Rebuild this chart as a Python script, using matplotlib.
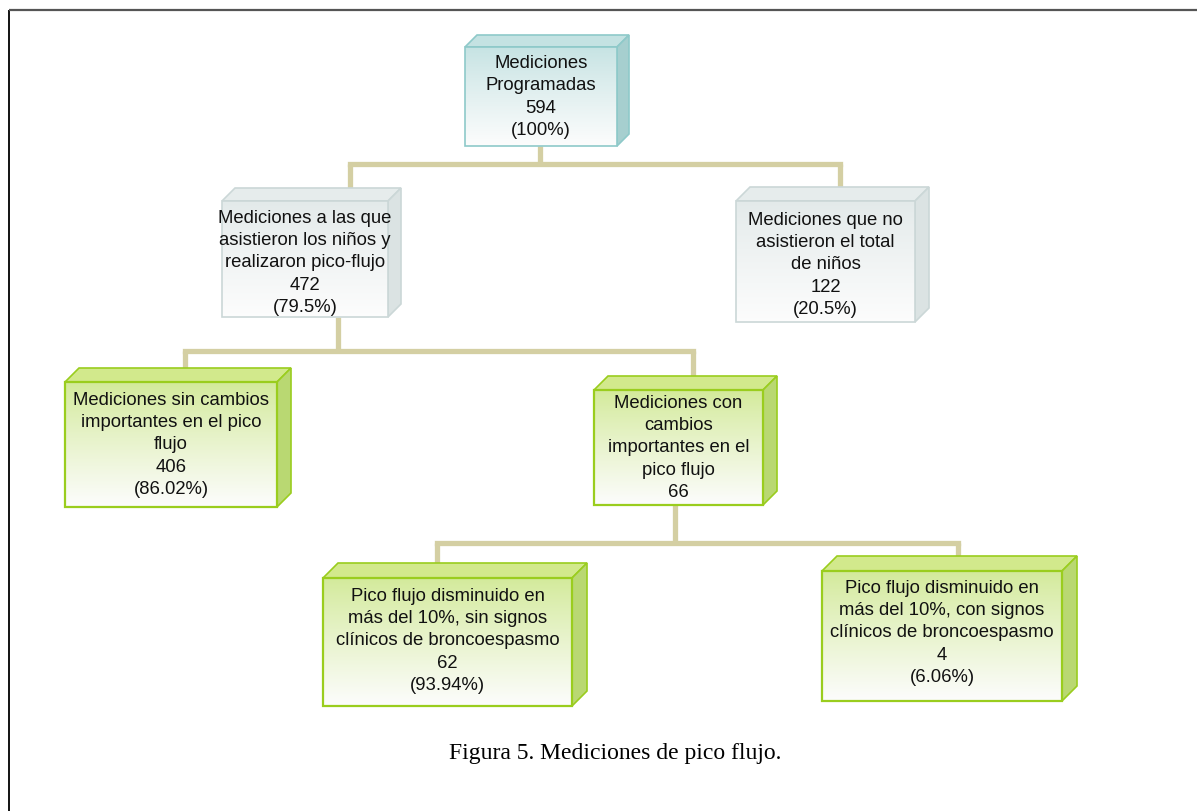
import matplotlib
matplotlib.use("Agg")
import matplotlib.pyplot as plt
from matplotlib.patches import Polygon, Rectangle
import numpy as np

# node texts and values
labels = [
    "Mediciones\nProgramadas",
    "Mediciones a las que\nasistieron los niños y\nrealizaron pico-flujo",
    "Mediciones que no\nasistieron el total\nde niños",
    "Mediciones sin cambios\nimportantes en el pico\nflujo",
    "Mediciones con\ncambios\nimportantes en el\npico flujo",
    "Pico flujo disminuido en\nmás del 10%, sin signos\nclínicos de broncoespasmo",
    "Pico flujo disminuido en\nmás del 10%, con signos\nclínicos de broncoespasmo",
]
counts = [594, 472, 122, 406, 66, 62, 4]
percents = ["100%", "79.5%", "20.5%", "86.02%", None, "93.94%", "6.06%"]
parents = [None, 0, 0, 1, 1, 4, 4]
caption = "Figura 5. Mediciones de pico flujo."

# layout in pixels: front face (x0, y0, x1, y1), depth, style, text centre y
boxes = [
    ((465, 48, 617, 147), 12, "teal", 97),
    ((222, 202, 388, 318), 13, "grey", 263),
    ((736, 202, 915, 323), 14, "grey", 265),
    ((65, 383, 277, 508), 14, "green", 445),
    ((594, 391, 763, 506), 14, "green", 448),
    ((323, 579, 572, 707), 15, "green", 641),
    ((822, 572, 1062, 702), 15, "green", 633),
]
# connectors: (bus y, stem x) per parent, drop x per child
bus = {0: (165, 540), 1: (352, 338), 4: (544, 675)}
drops = {1: 350, 2: 840, 3: 185, 4: 693, 5: 437, 6: 958}

styles = {
    "teal": dict(front="#c6e3e3", edge="#8ec9c9", top="#c4e2e2", side="#a6cfcf"),
    "grey": dict(front="#e3eaea", edge="#cbd7d7", top="#e6ecec", side="#dbe3e3"),
    "green": dict(front="#d3ea9a", edge="#9acd1e", top="#d2e98c", side="#b9d872"),
}
line_col = "#d4cfa3"

W, H = 1197, 812
fig = plt.figure(figsize=(W / 100, H / 100), dpi=100)
ax = fig.add_axes([0, 0, 1, 1])
ax.set_xlim(0, W)
ax.set_ylim(H, 0)
ax.axis("off")

# frame
ax.plot([9, 9], [11, H], color="black", lw=1.3, solid_capstyle="butt")
ax.plot([9, W], [11, 11], color="#555555", lw=1.6, solid_capstyle="butt")

# connectors
for p, (by, sx) in bus.items():
    kids = [i for i in range(len(parents)) if parents[i] == p]
    py = boxes[p][0][3]
    ax.plot([sx, sx], [py, by], color=line_col, lw=3.8, solid_capstyle="butt", zorder=1)
    xs = [drops[k] for k in kids] + [sx]
    ax.plot([min(xs), max(xs)], [by, by], color=line_col, lw=3.8,
            solid_capstyle="projecting", zorder=1)
    for k in kids:
        (x0, y0, x1, y1), d, _, _ = boxes[k]
        ax.plot([drops[k], drops[k]], [by, y0 - d + 2], color=line_col, lw=3.8,
                solid_capstyle="butt", zorder=1)

def fade(c, n=100, power=1.0):
    c = np.array(matplotlib.colors.to_rgb(c))
    t = np.linspace(0, 1, n)[:, None] ** power
    col = c * (1 - t) + np.ones(3) * t * 0.99
    return col[:, None, :]

for i, ((x0, y0, x1, y1), d, st, ty) in enumerate(boxes):
    s = styles[st]
    top = Polygon([(x0, y0), (x0 + d, y0 - d), (x1 + d, y0 - d), (x1, y0)],
                  closed=True, fc=s["top"], ec=s["edge"], lw=1.2, zorder=2)
    side = Polygon([(x1, y0), (x1 + d, y0 - d), (x1 + d, y1 - d), (x1, y1)],
                   closed=True, fc=s["side"], ec=s["edge"], lw=1.2, zorder=2)
    ax.add_patch(top)
    ax.add_patch(side)
    ax.imshow(fade(s["front"], power=0.9), extent=(x0, x1, y1, y0), aspect="auto",
              interpolation="bilinear", zorder=2)
    ax.add_patch(Rectangle((x0, y0), x1 - x0, y1 - y0, fc="none", ec=s["edge"],
                           lw=1.6 if st == "green" else 1.2, zorder=3))
    txt = labels[i] + "\n" + str(counts[i])
    if percents[i]:
        txt += "\n(" + percents[i] + ")"
    t = ax.text((x0 + x1) / 2, ty, txt, ha="center", va="center", ma="center",
                fontsize=13.3, family="Liberation Sans", color="#111111",
                linespacing=1.4, zorder=4)
    clip = Rectangle((x0, y0), x1 - x0, y1 - y0 - 5, transform=ax.transData)
    t.set_clip_path(clip)

ax.set_xlim(0, W)
ax.set_ylim(H, 0)

ax.text(615, 754, caption, ha="center", va="center", fontsize=17,
        family="Liberation Serif", color="black")

fig.savefig("out.png", dpi=100)
